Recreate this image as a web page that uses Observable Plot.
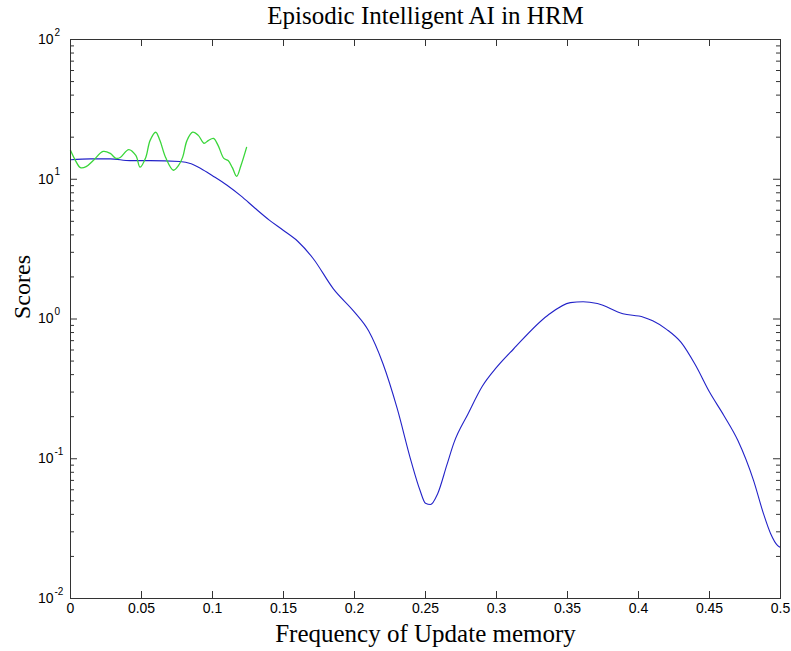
<!DOCTYPE html>
<html><head><meta charset="utf-8">
<script src="https://cdn.jsdelivr.net/npm/d3@7"></script>
<script src="https://cdn.jsdelivr.net/npm/@observablehq/plot@0.6"></script>
<style>body{margin:0;background:#fff}</style>
</head><body><div id="chart"></div>
<script>
const title = "Episodic Intelligent AI in HRM";
const xLabel = "Frequency of Update memory";
const yLabel = "Scores";

const blueX = [0, 0.014, 0.028, 0.042, 0.056, 0.077, 0.085, 0.092, 0.1, 0.11, 0.12, 0.13, 0.14, 0.15, 0.16, 0.171, 0.185, 0.2, 0.21, 0.22, 0.23, 0.24, 0.246, 0.25, 0.2535, 0.2585, 0.265, 0.27, 0.28, 0.29, 0.3, 0.312, 0.336, 0.352, 0.361, 0.371, 0.389, 0.4035, 0.41, 0.42, 0.43, 0.44, 0.45, 0.46, 0.47, 0.481, 0.488, 0.493, 0.498, 0.5];
const blueY = [13.8, 14.0, 14.0, 13.6, 13.6, 13.4, 12.9, 11.9, 10.6, 9.1, 7.6, 6.2, 5.1, 4.3, 3.6, 2.7, 1.65, 1.12, 0.82, 0.48, 0.23, 0.095, 0.06, 0.048, 0.047, 0.056, 0.09, 0.13, 0.21, 0.33, 0.45, 0.61, 1.06, 1.31, 1.33, 1.29, 1.09, 1.03, 0.97, 0.84, 0.68, 0.47, 0.30, 0.205, 0.135, 0.070, 0.0405, 0.0292, 0.0239, 0.0232];

const greenX = [0, 0.0035, 0.007, 0.011, 0.016, 0.023, 0.028, 0.032, 0.035, 0.041, 0.046, 0.049, 0.053, 0.056, 0.06, 0.063, 0.067, 0.0725, 0.076, 0.079, 0.082, 0.086, 0.09, 0.094, 0.097, 0.1007, 0.104, 0.108, 0.111, 0.114, 0.117, 0.12, 0.124];
const greenY = [16.1, 13.6, 12.1, 12.3, 13.6, 15.8, 15.3, 14.1, 14.3, 16.3, 14.8, 12.2, 14.3, 18.9, 21.7, 18.9, 14.3, 11.6, 12.5, 14.4, 18.9, 21.7, 20.6, 18.1, 18.9, 19.6, 17.4, 14.1, 13.6, 12.1, 10.5, 12.5, 16.9];

const xTicks = [0, 0.05, 0.1, 0.15, 0.2, 0.25, 0.3, 0.35, 0.4, 0.45, 0.5];
const xTickLabels = ["0", "0.05", "0.1", "0.15", "0.2", "0.25", "0.3", "0.35", "0.4", "0.45", "0.5"];
const yTicks = [0.01, 0.1, 1, 10, 100];
const yTickBase = ["10", "10", "10", "10", "10"];
const yTickExp = ["-2", "-1", "0", "1", "2"];
const yMinorFactors = [2, 3, 4, 5, 6, 7, 8, 9];

const blue = blueX.map((x, i) => ({x, y: blueY[i]}));
const green = greenX.map((x, i) => ({x, y: greenY[i]}));
const yMinor = yTicks.slice(0, -1).flatMap(d => yMinorFactors.map(f => d * f));

const W = 791, H = 651, mt = 39, mb = 53, ml = 70, mr = 11;
const iw = W - ml - mr, ih = H - mt - mb;
const axisColor = "#333";
const sans = "Liberation Sans, Arial, sans-serif";
const serif = "Liberation Serif, Times New Roman, serif";

const chart = Plot.plot({
  width: W, height: H,
  marginTop: mt, marginBottom: mb, marginLeft: ml, marginRight: mr,
  x: {domain: [0, 0.5], axis: null},
  y: {type: "log", domain: [0.01, 100], axis: null},
  style: {background: "#fff"},
  marks: [
    Plot.line(blue, {x: "x", y: "y", stroke: "#2222c8", strokeWidth: 1.1, curve: "monotone-x"}),
    Plot.line(green, {x: "x", y: "y", stroke: "#3ad63a", strokeWidth: 1.3, curve: "catmull-rom"}),
    Plot.frame({stroke: axisColor, strokeWidth: 1}),
    Plot.tickX(xTicks, {x: d => d, insetTop: ih - 7, stroke: axisColor}),
    Plot.tickX(xTicks, {x: d => d, insetBottom: ih - 7, stroke: axisColor}),
    Plot.tickY(yTicks, {y: d => d, insetRight: iw - 7, stroke: axisColor}),
    Plot.tickY(yTicks, {y: d => d, insetLeft: iw - 7, stroke: axisColor}),
    Plot.tickY(yMinor, {y: d => d, insetRight: iw - 4, stroke: axisColor}),
    Plot.tickY(yMinor, {y: d => d, insetLeft: iw - 4, stroke: axisColor}),
    Plot.text(xTicks, {x: d => d, text: (d, i) => xTickLabels[i], frameAnchor: "bottom", dy: 10, lineAnchor: "middle", fontSize: 14, fontFamily: sans, fill: "#000"}),
    Plot.text(yTicks, {y: d => d, text: (d, i) => yTickBase[i], frameAnchor: "left", dx: -17, textAnchor: "end", lineAnchor: "middle", fontSize: 14, fontFamily: sans, fill: "#000"}),
    Plot.text(yTicks, {y: d => d, text: (d, i) => yTickExp[i], frameAnchor: "left", dx: -16, dy: -7, textAnchor: "start", lineAnchor: "middle", fontSize: 10, fontFamily: sans, fill: "#000"}),
    Plot.text([title], {text: d => d, frameAnchor: "top", dy: -24, lineAnchor: "middle", fontSize: 25, fontFamily: serif, fill: "#000"}),
    Plot.text([xLabel], {text: d => d, frameAnchor: "bottom", dy: 35, lineAnchor: "middle", fontSize: 25, fontFamily: serif, fill: "#000"}),
    Plot.text([yLabel], {text: d => d, frameAnchor: "left", dx: -48, rotate: -90, lineAnchor: "middle", fontSize: 24, fontFamily: serif, fill: "#000"})
  ]
});
document.getElementById("chart").appendChild(chart);
</script>
</body></html>
